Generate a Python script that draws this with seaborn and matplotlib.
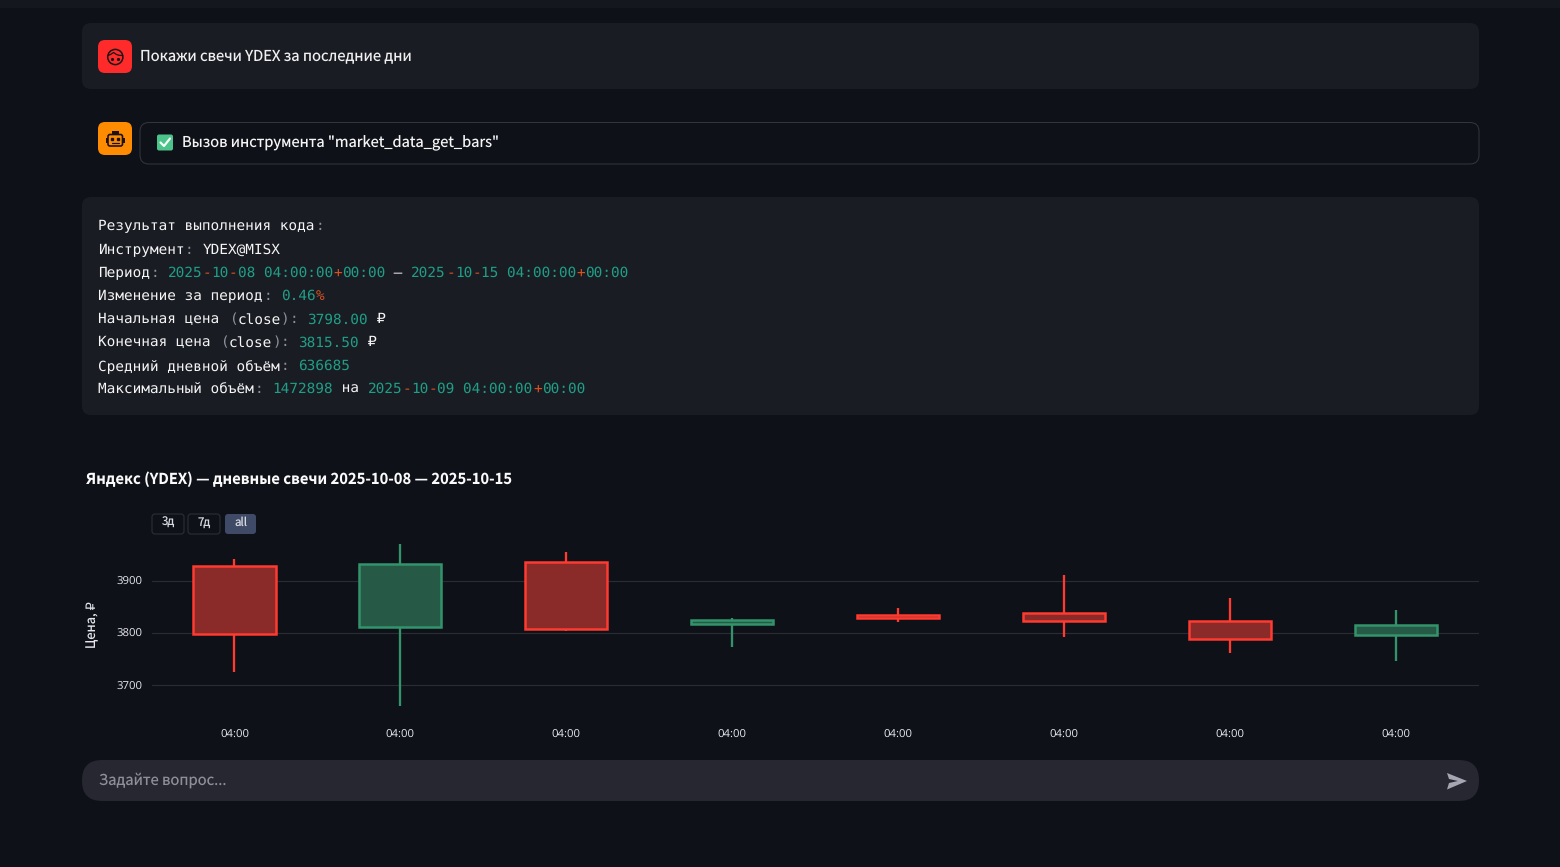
import matplotlib
matplotlib.use("Agg")
import matplotlib.pyplot as plt
from matplotlib.patches import FancyBboxPatch, Circle, Polygon, Rectangle
import numpy as np
import seaborn as sns

# ===== DATA =====
days = ["2025-10-08", "2025-10-09", "2025-10-10", "2025-10-11",
        "2025-10-12", "2025-10-13", "2025-10-14", "2025-10-15"]
open_price = [3929, 3812, 3936, 3817, 3834, 3838, 3823, 3796]
close_price = [3798, 3933, 3808, 3826, 3828, 3823, 3789, 3815.5]
high_price = [3942, 3971, 3955, 3829, 3848, 3911, 3867, 3844]
low_price = [3725, 3660, 3804, 3773, 3821, 3792, 3761, 3746]
x_labels = ["04:00"] * 8
y_ticks = [3700, 3800, 3900]
range_buttons = ["3д", "7д", "all"]

title = "Яндекс (YDEX) — дневные свечи 2025-10-08 — 2025-10-15"
question = "Покажи свечи YDEX за последние дни"
tool_call = 'Вызов инструмента "market_data_get_bars"'
placeholder = "Задайте вопрос..."

# w = white, m = muted, t = teal, o = orange
code_lines = [
    [("Результат выполнения кода", "w"), (":", "m")],
    [("Инструмент", "w"), (": ", "m"), ("YDEX@MISX", "w")],
    [("Период", "w"), (": ", "m"), ("2025", "t"), ("-", "o"), ("10", "t"), ("-", "o"), ("08 04:00:00", "t"),
     ("+", "o"), ("00:00", "t"), (" — ", "w"), ("2025", "t"), ("-", "o"), ("10", "t"), ("-", "o"),
     ("15 04:00:00", "t"), ("+", "o"), ("00:00", "t")],
    [("Изменение за период", "w"), (": ", "m"), ("0.46", "t"), ("%", "o")],
    [("Начальная цена ", "w"), ("(", "m"), ("close", "w"), (")", "m"), (": ", "m"), ("3798.00", "t"), (" ₽", "w")],
    [("Конечная цена ", "w"), ("(", "m"), ("close", "w"), (")", "m"), (": ", "m"), ("3815.50", "t"), (" ₽", "w")],
    [("Средний дневной объём", "w"), (": ", "m"), ("636685", "t")],
    [("Максимальный объём", "w"), (": ", "m"), ("1472898", "t"), (" на ", "w"), ("2025", "t"), ("-", "o"),
     ("10", "t"), ("-", "o"), ("09 04:00:00", "t"), ("+", "o"), ("00:00", "t")],
]

# ===== STYLE =====
BG = "#0e1117"
PANEL = "#1a1c24"
INPUT = "#262730"
RED = "#ff3a30"
RED_FILL = "#8a2a29"
GREEN = "#33946b"
GREEN_FILL = "#265a46"
GRID = "#2a2c34"
DARK = "#1c1216"
TICK = "#e6e8ee"
code_colors = {"w": "#f5f5f5", "m": "#8d9198", "t": "#1f9f86", "o": "#d9541e"}

sns.set_theme(style="dark", rc={"figure.facecolor": BG, "axes.facecolor": BG, "savefig.facecolor": BG})
UI_FONT = ["Noto Sans CJK SC", "DejaVu Sans"]
MONO_FONT = ["DejaVu Sans Mono", "DejaVu Sans"]
plt.rcParams["font.family"] = UI_FONT
plt.rcParams["text.hinting"] = "no_hinting"

W, H = 1560, 867
fig = plt.figure(figsize=(W / 100, H / 100), dpi=100)

# page layer in pixel coordinates
page = fig.add_axes([0, 0, 1, 1])
page.set_xlim(0, W)
page.set_ylim(H, 0)
page.axis("off")


def px(size):
    return size * 72 / 100


def box(x0, y0, x1, y1, r, face, edge="none", lw=0):
    page.add_patch(FancyBboxPatch((x0 + r, y0 + r), x1 - x0 - 2 * r, y1 - y0 - 2 * r,
                                  boxstyle=f"round,pad={r},rounding_size={r}",
                                  facecolor=face, edgecolor=edge, linewidth=lw))


page.add_patch(Rectangle((0, 0), W, 8, facecolor="#15171e", edgecolor="none"))
box(82, 23, 1479, 89, 9, PANEL)
box(140, 122.5, 1479, 164, 9, BG, edge="#33353e", lw=0.75)
box(82, 197, 1479, 415, 9, PANEL)
box(82, 760, 1479, 801, 20, INPUT)

# user icon
box(98, 40, 132, 73, 7, "#ff2b2b")
page.add_patch(Circle((115.3, 57), 7.6, facecolor="none", edgecolor=DARK, linewidth=1.1))
page.plot([108.2, 110.5, 113.5, 116.5, 119, 122.2], [55.5, 54.5, 52.5, 54.5, 55.3, 55.5], color=DARK, lw=0.9)
page.plot([112.3, 118.3], [58.5, 58.5], ls="none", marker="o", ms=1.3, color=DARK)

# assistant icon
box(98, 122, 132, 155, 7, "#ff8c00")
box(108, 134.5, 122.5, 146, 2, "#ff8c00", edge=DARK, lw=1.2)
page.add_patch(Rectangle((112, 130.5), 6.5, 4, facecolor=DARK, edgecolor="none"))
page.add_patch(Rectangle((105.5, 138), 2.5, 5, facecolor=DARK, edgecolor="none"))
page.add_patch(Rectangle((122.5, 138), 2.5, 5, facecolor=DARK, edgecolor="none"))
page.plot([112.3, 118.2], [138.8, 138.8], ls="none", marker="s", ms=1.5, color=DARK)
page.plot([111.5, 119], [142.5, 142.5], color=DARK, lw=0.9)

# check emoji
box(157, 134.5, 173, 150.5, 2, "#4cc38a")
page.plot([160.5, 164, 170], [142.5, 146, 138.5], color="#f4fff8", lw=1.6)

page.text(140, 56, question, color="#f0f0f0", fontsize=px(14.8), va="center", ha="left")
page.text(182.5, 143, tool_call, color="#f5f5f5", fontsize=px(14.7), va="center", ha="left")
page.text(99, 780.5, placeholder, color="#8e8f98", fontsize=px(14.8), va="center", ha="left")
page.add_patch(Polygon([[1447, 773], [1467, 781], [1447, 789.5], [1449, 783], [1458, 781], [1449, 779]],
                       facecolor="#a5a6b2", edgecolor="none"))

# code block, one piece of text per colour, all on the same baseline
CHAR_W = 8.69
for row, segments in enumerate(code_lines):
    col = 0
    for text, key in segments:
        page.text(98.5 + CHAR_W * col, 230.5 + 23.2 * row, text, color=code_colors[key], fontsize=px(14.45),
                  family=MONO_FONT, va="baseline", ha="left")
        col += len(text)

page.text(86, 479, title, color="#fafafa", fontsize=px(14.8), fontweight="bold", va="center", ha="left")

# range selector
for label, x0, x1, active in zip(range_buttons, [152, 188, 225], [184, 220, 256], [False, False, True]):
    box(x0, 514, x1, 534, 3, "#3f4a66" if active else BG, edge="none" if active else "#2c2e36", lw=0.8)
    page.text((x0 + x1) / 2, 522.5, label, color="#d6d9e0", fontsize=px(11.5), va="center", ha="center")

# ===== CANDLES =====
ax_left, ax_right, ax_top, ax_bottom = 152, 1479, 538, 712
ax = fig.add_axes([ax_left / W, 1 - ax_bottom / H, (ax_right - ax_left) / W, (ax_bottom - ax_top) / H])
ax.patch.set_alpha(0)

opens = np.array(open_price)
closes = np.array(close_price)
body_low = np.minimum(opens, closes)
body_high = np.maximum(opens, closes)
rising = closes > opens

sns.barplot(x=days, y=body_high - body_low, bottom=body_low, width=0.495, color=RED_FILL, errorbar=None, ax=ax, zorder=3)
for bar, up in zip(ax.patches, rising):
    bar.set_facecolor(GREEN_FILL if up else RED_FILL)
    bar.set_edgecolor(GREEN if up else RED)
    bar.set_linewidth(px(2.5))

ax.vlines(range(len(days)), low_price, high_price, colors=[GREEN if up else RED for up in rising],
          linewidth=px(2.3), zorder=2)

ax.set_xlim(-0.497, 7.5)
ax.set_ylim(3649, 3982)
ax.set_yticks(y_ticks)
ax.set_xticks(range(len(days)))
ax.set_xticklabels(x_labels)
ax.grid(axis="y", color=GRID, linewidth=px(1.2))
ax.grid(axis="x", visible=False)
ax.set_axisbelow(True)
for spine in ax.spines.values():
    spine.set_visible(False)
ax.tick_params(axis="x", length=0, pad=px(17), labelsize=px(11.4), labelcolor=TICK)
ax.tick_params(axis="y", length=0, pad=px(10), labelsize=px(11.4), labelcolor=TICK)
for lab in ax.get_xticklabels() + ax.get_yticklabels():
    lab.set_family(["Open Sans", "DejaVu Sans"])
for lab in ax.get_yticklabels():
    lab.set_verticalalignment("center_baseline")
ax.set_xlabel("")
ax.set_ylabel("Цена, ₽", color=TICK, fontsize=px(13))
ax.yaxis.set_label_coords((99 - ax_left) / (ax_right - ax_left), (ax_bottom - 625) / (ax_bottom - ax_top))

fig.savefig("out.png", dpi=100)
plt.close()
